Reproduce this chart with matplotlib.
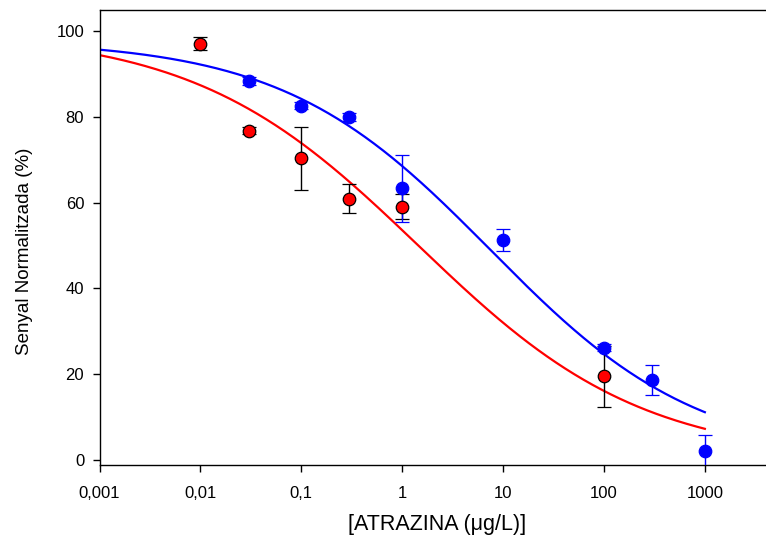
import numpy as np
import matplotlib
matplotlib.use("Agg")
import matplotlib.pyplot as plt
from matplotlib.ticker import FixedLocator, FixedFormatter, NullLocator

plt.rcParams['font.family'] = ['Liberation Sans', 'DejaVu Sans']

# data
red_x = [0.01, 0.03, 0.1, 0.3, 1, 100]
red_y = [97.1, 76.8, 70.4, 61.0, 59.1, 19.5]
red_err = [1.5, 0.8, 7.4, 3.4, 2.9, 7.1]

blue_x = [0.03, 0.1, 0.3, 1, 10, 100, 300, 1000]
blue_y = [88.4, 82.7, 80.0, 63.4, 51.3, 26.2, 18.6, 2.0]
blue_err = [0.9, 0.9, 0.9, 7.8, 2.5, 0.9, 3.5, 3.9]

# fitted 4-parameter logistic curves (top, bottom, EC50, hill)
red_fit = (100.0, 0.0, 1.45, 0.39)
blue_fit = (98.0, 0.0, 7.5, 0.42)

x_ticks = [0.001, 0.01, 0.1, 1, 10, 100, 1000]
x_ticklabels = ["0,001", "0,01", "0,1", "1", "10", "100", "1000"]
y_ticks = [0, 20, 40, 60, 80, 100]


def logistic(x, p):
    top, bottom, ec50, hill = p
    return bottom + (top - bottom) / (1 + (x / ec50) ** hill)


fig = plt.figure(figsize=(7.66, 5.47), dpi=100)
ax = fig.add_axes([0.1299, 0.1499, 0.922, 0.8318])

xs = np.logspace(-3, 3, 400)
ax.plot(xs, logistic(xs, red_fit), color='red', lw=1.6, zorder=2)
ax.plot(xs, logistic(xs, blue_fit), color='blue', lw=1.6, zorder=2)

ax.errorbar(red_x, red_y, yerr=red_err, fmt='o', ms=9, mfc='red', mec='black',
            mew=0.9, ecolor='black', elinewidth=1, capsize=5, capthick=1, zorder=3)
ax.errorbar(blue_x, blue_y, yerr=blue_err, fmt='o', ms=9, mfc='blue', mec='blue',
            mew=0.9, ecolor='blue', elinewidth=1, capsize=5, capthick=1, zorder=3)

ax.set_xscale('log')
ax.set_xlim(0.001, 10000)
ax.set_ylim(-1.2, 105)
ax.xaxis.set_major_locator(FixedLocator(x_ticks))
ax.xaxis.set_major_formatter(FixedFormatter(x_ticklabels))
ax.xaxis.set_minor_locator(NullLocator())
ax.set_yticks(y_ticks)

ax.spines['right'].set_visible(False)
for s in ['left', 'bottom', 'top']:
    ax.spines[s].set_linewidth(1.0)
ax.tick_params(direction='out', length=5, width=1, labelsize=12, pad=6)
ax.tick_params(axis='x', pad=10)

ax.set_xlabel('[ATRAZINA (μg/L)]', fontsize=15.5)
ax.set_ylabel('Senyal Normalitzada (%)', fontsize=13.5)
ax.xaxis.set_label_coords(0.478, -0.108)
ax.yaxis.set_label_coords(-0.094, 0.47)

fig.savefig('out.png', dpi=100)
